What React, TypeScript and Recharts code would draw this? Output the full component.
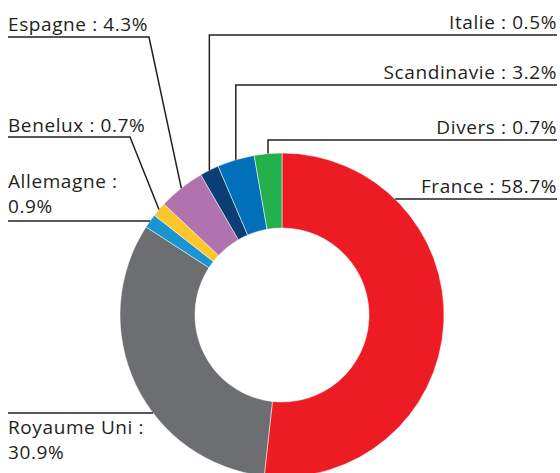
import { PieChart, Pie, Cell } from "recharts";

// Slice sizes (degrees of arc / 3.6)
const names = ["France", "Royaume Uni", "Allemagne", "Benelux", "Espagne", "Italie", "Scandinavie", "Divers"];
const shares = [51.75, 32.4, 1.4, 1.45, 4.65, 1.9, 3.7, 2.75];
const labelTexts = [
  ["France : 58.7%"],
  ["Royaume Uni :", "30.9%"],
  ["Allemagne :", "0.9%"],
  ["Benelux : 0.7%"],
  ["Espagne : 4.3%"],
  ["Italie : 0.5%"],
  ["Scandinavie : 3.2%"],
  ["Divers : 0.7%"],
];
const colors = ["#ED1C24", "#6D6E71", "#1B95D2", "#FFC629", "#B173AE", "#0B3F73", "#0070BA", "#24B14B"];

const data = names.map((name, i) => ({ name, value: shares[i] }));

// leader line / text layout per slice
type Layout = {
  mode: "edge" | "diag" | "up";
  side: "left" | "right";
  lineY: number;
  elbowX?: number;
  textY: number[];
};
const layouts: Layout[] = [
  { mode: "edge", side: "right", lineY: 199, textY: [193] },
  { mode: "edge", side: "left", lineY: 413, textY: [434, 459] },
  { mode: "edge", side: "left", lineY: 221, textY: [188, 213] },
  { mode: "diag", side: "left", lineY: 137, elbowX: 130, textY: [132] },
  { mode: "diag", side: "left", lineY: 37, elbowX: 149, textY: [31] },
  { mode: "up", side: "right", lineY: 35, textY: [29] },
  { mode: "up", side: "right", lineY: 85, textY: [79] },
  { mode: "up", side: "right", lineY: 140, textY: [134] },
];

const LEFT_X = 8;
const RIGHT_X = 557;
const RADIAN = Math.PI / 180;
const INK = "#231F20";

const renderLabel = (props: any) => {
  const { cx, cy, midAngle, outerRadius, index } = props;
  const lay = layouts[index];
  const endX = lay.side === "left" ? LEFT_X : RIGHT_X;
  let pts: [number, number][] = [];
  if (lay.mode === "edge") {
    const dy = lay.lineY - cy;
    const dx = Math.sqrt(Math.max(outerRadius * outerRadius - dy * dy, 0));
    const x = lay.side === "left" ? cx - dx : cx + dx;
    pts = [[x, lay.lineY], [endX, lay.lineY]];
  } else {
    const ax = cx + outerRadius * Math.cos(-midAngle * RADIAN);
    const ay = cy + outerRadius * Math.sin(-midAngle * RADIAN);
    if (lay.mode === "up") {
      pts = [[ax, ay], [ax, lay.lineY], [endX, lay.lineY]];
    } else {
      pts = [[ax, ay], [lay.elbowX as number, lay.lineY], [endX, lay.lineY]];
    }
  }
  return (
    <g key={`lbl-${index}`}>
      <polyline
        points={pts.map((p) => p.join(",")).join(" ")}
        fill="none"
        stroke={INK}
        strokeWidth={1.5}
      />
      {labelTexts[index].map((t, j) => (
        <text
          key={j}
          x={endX}
          y={lay.textY[j]}
          textAnchor={lay.side === "left" ? "start" : "end"}
          fill={INK}
          fontSize={19}
          letterSpacing={0.6}
          fontFamily="'Open Sans', sans-serif"
        >
          {t}
        </text>
      ))}
    </g>
  );
};

export default function App() {
  return (
    <div style={{ position: "absolute", left: 0, top: 0, width: 560, height: 473, background: "#fff", overflow: "hidden" }}>
      <PieChart width={560} height={473} margin={{ top: 0, right: 0, bottom: 0, left: 0 }}>
        <Pie
          data={data}
          dataKey="value"
          nameKey="name"
          cx={282}
          cy={315}
          innerRadius={87}
          outerRadius={162}
          startAngle={90}
          endAngle={-270}
          stroke="#fff"
          strokeWidth={0.5}
          label={renderLabel}
          labelLine={false}
          isAnimationActive={false}
        >
          {data.map((d, i) => (
            <Cell key={d.name} fill={colors[i]} />
          ))}
        </Pie>
      </PieChart>
    </div>
  );
}
